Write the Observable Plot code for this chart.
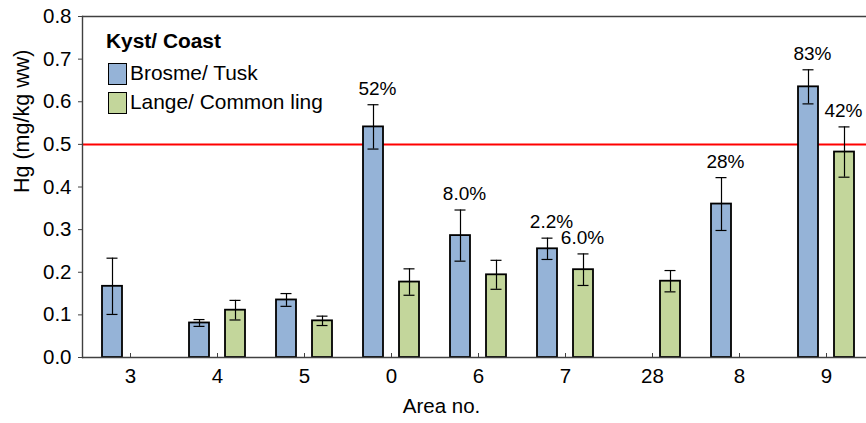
<!DOCTYPE html>
<html>
<head>
<meta charset="utf-8">
<script src="https://cdn.jsdelivr.net/npm/d3@7"></script>
<script src="https://cdn.jsdelivr.net/npm/@observablehq/plot@0.6"></script>
<style>
  html, body { margin: 0; padding: 0; background: #fff; overflow: hidden; }
  #wrap { position: relative; width: 866px; height: 423px; }
  #wrap svg { max-width: none; }
  .legend { position: absolute; left: 106px; top: 31px; font-family: "Liberation Sans", Arial, sans-serif; font-size: 20.9px; color: #000; line-height: 1; }
  .legend .title { font-weight: bold; height: 28px; }
  .legend .item { display: flex; align-items: center; height: 29px; margin-left: 2px; }
  .legend .sw { width: 17px; height: 20px; border: 1.6px solid #000; margin-right: 3px; box-sizing: content-box; }
</style>
</head>
<body>
<div id="wrap">
  <div class="legend" id="legend"></div>
</div>
<script>
// Mercury in fish fillet by coastal area, mean with error bars
const areas = ["3", "4", "5", "0", "6", "7", "28", "8", "9"];
const tuskMean = [0.167, 0.081, 0.135, 0.541, 0.286, 0.255, null, 0.360, 0.635];
const tuskErr  = [0.066, 0.008, 0.015, 0.052, 0.060, 0.025, null, 0.062, 0.040];
const lingMean = [null, 0.111, 0.086, 0.177, 0.194, 0.206, 0.179, null, 0.482];
const lingErr  = [null, 0.023, 0.011, 0.031, 0.034, 0.037, 0.025, null, 0.059];
// share of samples above the limit
const tuskPct = [null, null, null, "52%", "8.0%", "2.2%", null, "28%", "83%"];
const lingPct = [null, null, null, null, null, "6.0%", null, null, "42%"];
const limit = 0.5;
const yTicks = [0, 0.1, 0.2, 0.3, 0.4, 0.5, 0.6, 0.7, 0.8];

const yTitle = "Hg (mg/kg ww)";
const xTitle = "Area no.";
const legendTitle = "Kyst/ Coast";
const seriesNames = ["Brosme/ Tusk", "Lange/ Common ling"];
const seriesColors = ["#95B3D7", "#C3D69B"];

function rowsFor(mean, err, pct) {
  return areas.map((a, i) => ({area: a, value: mean[i], err: err[i], pct: pct[i]}))
    .filter(d => d.value != null);
}
const tusk = rowsFor(tuskMean, tuskErr, tuskPct);
const ling = rowsFor(lingMean, lingErr, lingPct);

const ink = "#404040";
const off = 18;

function seriesMarks(rows, color, dx, labelDx) {
  return [
    Plot.barY(rows, {x: "area", y: "value", fill: color, stroke: "#000", strokeWidth: 1.8, dx}),
    Plot.ruleX(rows, {x: "area", y1: d => d.value - d.err, y2: d => d.value + d.err, stroke: "#000", strokeWidth: 1.2, dx}),
    Plot.tickY(rows, {x: "area", y: d => d.value + d.err, stroke: "#000", strokeWidth: 1.2, dx, insetLeft: 4.5, insetRight: 4.5}),
    Plot.tickY(rows, {x: "area", y: d => d.value - d.err, stroke: "#000", strokeWidth: 1.2, dx, insetLeft: 4.5, insetRight: 4.5}),
    Plot.text(rows.filter(d => d.pct), {x: "area", y: d => d.value + d.err, text: "pct", dx: labelDx, dy: -16, lineAnchor: "middle", fontSize: 19, fill: "#000"})
  ];
}

const chart = Plot.plot({
  width: 866,
  height: 423,
  marginLeft: 82,
  marginRight: 0,
  marginTop: 16,
  marginBottom: 66,
  style: {fontFamily: "'Liberation Sans', Arial, sans-serif", fontSize: "20.5px", color: "#000", background: "#fff"},
  x: {domain: areas, range: [82, 874], paddingInner: 0.7727, paddingOuter: 0.3864, label: null},
  y: {domain: [0, 0.8], label: null},
  marks: [
    Plot.ruleY([limit], {stroke: "#FF0000", strokeWidth: 2}),
    ...seriesMarks(tusk, seriesColors[0], -off, -off + 4),
    ...seriesMarks(ling, seriesColors[1], off, off - 1),
    Plot.ruleY([0.8], {stroke: ink, strokeWidth: 1.4}),
    Plot.ruleY([0], {stroke: ink, strokeWidth: 1.4}),
    Plot.frame({anchor: "left", stroke: ink, strokeWidth: 1.4}),
    Plot.ruleX(areas, {x: d => d, y1: 0, y2: 0, insetTop: -4, stroke: ink, strokeWidth: 1}),
    Plot.axisY({ticks: yTicks, tickFormat: d3.format(".1f"), tickSize: 4, tickPadding: 7, stroke: ink,
      label: null, fontSize: 20.5}),
    Plot.axisX({tickSize: 0, tickPadding: 11, label: null, fontSize: 20.5}),
    Plot.text([yTitle], {frameAnchor: "left", rotate: -90, dx: -60, dy: 6, lineAnchor: "middle", fontSize: 21.5}),
    Plot.text([xTitle], {frameAnchor: "bottom", dx: -33, dy: 49, lineAnchor: "middle", fontSize: 20.5})
  ]
});
document.getElementById("wrap").prepend(chart);

// legend drawn over the plot area
const legend = document.getElementById("legend");
const t = document.createElement("div");
t.className = "title";
t.textContent = legendTitle;
legend.appendChild(t);
seriesNames.forEach((name, i) => {
  const row = document.createElement("div");
  row.className = "item";
  const sw = document.createElement("span");
  sw.className = "sw";
  sw.style.background = seriesColors[i];
  const lab = document.createElement("span");
  lab.textContent = name;
  row.appendChild(sw);
  row.appendChild(lab);
  legend.appendChild(row);
});
</script>
</body>
</html>
